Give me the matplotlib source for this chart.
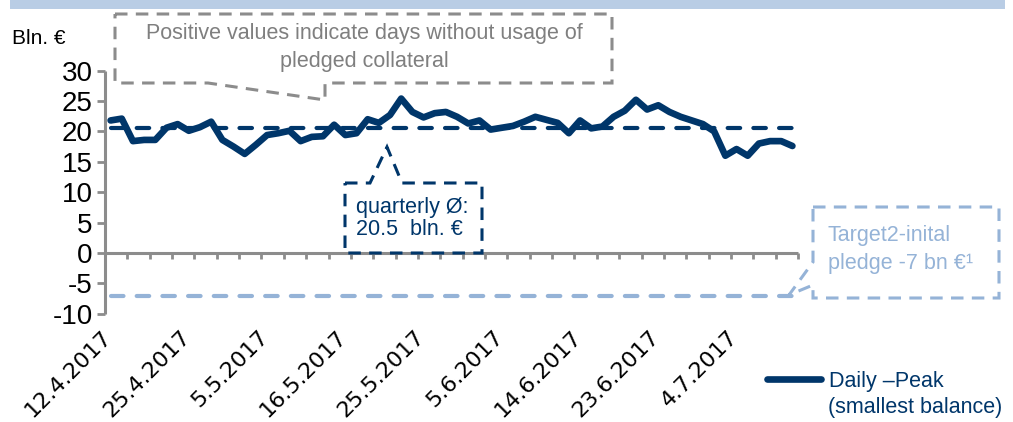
import matplotlib
matplotlib.use("Agg")
import matplotlib.pyplot as plt
from matplotlib.patches import Polygon, Rectangle
from matplotlib.transforms import ScaledTranslation
import numpy as np

plt.rcParams['lines.scale_dashes'] = False

# ---------------- data ----------------
dates = [
    "12.4.2017", "13.4.2017", "18.4.2017", "19.4.2017", "20.4.2017", "21.4.2017",
    "24.4.2017", "25.4.2017", "26.4.2017", "27.4.2017", "28.4.2017",
    "2.5.2017", "3.5.2017", "4.5.2017", "5.5.2017", "8.5.2017", "9.5.2017",
    "10.5.2017", "11.5.2017", "12.5.2017", "15.5.2017", "16.5.2017", "17.5.2017",
    "18.5.2017", "19.5.2017", "22.5.2017", "23.5.2017", "24.5.2017", "25.5.2017",
    "26.5.2017", "29.5.2017", "30.5.2017", "31.5.2017",
    "1.6.2017", "2.6.2017", "5.6.2017", "6.6.2017", "7.6.2017", "8.6.2017",
    "9.6.2017", "12.6.2017", "13.6.2017", "14.6.2017", "15.6.2017", "16.6.2017",
    "19.6.2017", "20.6.2017", "21.6.2017", "22.6.2017", "23.6.2017", "26.6.2017",
    "27.6.2017", "28.6.2017", "29.6.2017", "30.6.2017",
    "3.7.2017", "4.7.2017", "5.7.2017", "6.7.2017", "7.7.2017", "10.7.2017", "11.7.2017",
]
daily_peak = [
    21.8, 22.1, 18.4, 18.6, 18.6, 20.6, 21.2, 20.1, 20.7, 21.6,
    18.6, 17.5, 16.3, 17.8, 19.4, 19.7, 20.1, 18.4, 19.1, 19.2,
    21.1, 19.4, 19.7, 22.0, 21.4, 22.7, 25.4, 23.2, 22.3, 23.0,
    23.2, 22.4, 21.3, 21.8, 20.3, 20.6, 20.9, 21.6, 22.4, 21.9,
    21.4, 19.7, 21.8, 20.5, 20.8, 22.4, 23.4, 25.2, 23.6, 24.3,
    23.2, 22.4, 21.8, 21.2, 20.0, 16.0, 17.1, 16.0, 18.0, 18.4,
    18.4, 17.6,
]
quarterly_avg = [20.5] * len(dates)
initial_pledge = [-7.0] * len(dates)
tick_label_dates = ["12.4.2017", "25.4.2017", "5.5.2017", "16.5.2017", "25.5.2017",
                    "5.6.2017", "14.6.2017", "23.6.2017", "4.7.2017"]
y_ticks = [-10, -5, 0, 5, 10, 15, 20, 25, 30]

# ---------------- style ----------------
NAVY = "#00366A"
GRAY = "#8C8C8C"
GRAYTXT = "#7F7F7F"
LBLUE = "#95B3D7"
BAND = "#B9CDE5"
ARIAL = ["Liberation Sans", "DejaVu Sans"]

W, H = 1013, 422
fig = plt.figure(figsize=(W / 100, H / 100), dpi=100)

def fx(x):
    return x / W

def fy(y):
    return 1 - y / H

y_top, y_bot = 70.6, 313.8
ax = fig.add_axes([fx(105), fy(y_bot), fx(798) - fx(105), (y_bot - y_top) / H])

x = np.arange(len(dates))
ax.plot(x, initial_pledge, color=LBLUE, lw=3.0, dashes=(9, 9.5),
        dash_capstyle='round', zorder=3)
ax.plot(x, quarterly_avg, color=NAVY, lw=3.0, dashes=(9, 9.5),
        dash_capstyle='round', zorder=4)
line, = ax.plot(x, daily_peak, color=NAVY, lw=4.8, solid_capstyle='round',
                solid_joinstyle='round', zorder=5, label="Daily –Peak")

ax.set_xlim(-0.5, len(dates) - 0.5)
ax.set_ylim(-10, 30)

for s in ['top', 'right']:
    ax.spines[s].set_visible(False)
ax.spines['bottom'].set_position(('data', 0))
for s in ['left', 'bottom']:
    ax.spines[s].set_color(GRAY)
    ax.spines[s].set_linewidth(2.2)
    ax.spines[s].set_capstyle('butt')

ax.set_yticks(y_ticks)
ax.set_yticklabels([str(v) for v in y_ticks], fontfamily=ARIAL, fontsize=20)
ax.tick_params(axis='y', direction='out', length=6, width=2.0, color=GRAY, pad=3)

tick_pos = [dates.index(d) for d in tick_label_dates]
ax.set_xticks(tick_pos)
ax.set_xticklabels(tick_label_dates, fontfamily="DejaVu Sans", fontsize=16)
ax.set_xticks(np.arange(-0.5, len(dates), 2), minor=True)
ax.tick_params(axis='x', which='major', length=0, pad=53)
ax.tick_params(axis='x', which='minor', direction='out', length=4.5, width=2.0, color=GRAY)
shift = ScaledTranslation(-9 / 100, 0, fig.dpi_scale_trans)
for tk in ax.xaxis.get_major_ticks():
    lab = tk.label1
    lab.set_rotation(45)
    lab.set_ha('right')
    lab.set_va('top')
    lab.set_rotation_mode('anchor')
    lab.set_transform(lab.get_transform() + shift)

# legend (first line as legend entry, second line as continuation text)
leg = ax.legend(handles=[line], loc='upper left', bbox_to_anchor=(fx(767), fy(371)),
                bbox_transform=fig.transFigure, frameon=False, borderpad=0,
                borderaxespad=0, handlelength=2.5, handletextpad=0.4,
                prop={'family': ARIAL, 'size': 15.5})
for t in leg.get_texts():
    t.set_color(NAVY)
fig.text(fx(828), fy(408), "(smallest balance)", ha='left', va='center', color=NAVY,
         fontsize=15.5, fontfamily=ARIAL)

# top band
fig.add_artist(Rectangle((fx(10), fy(9)), fx(1005) - fx(10), 9 / H,
                         transform=fig.transFigure, color=BAND, lw=0))

def callout(pts, color):
    p = Polygon([(fx(a), fy(b)) for a, b in pts], closed=True, transform=fig.transFigure,
                fill=False, edgecolor=color, lw=2.2, linestyle=(0, (9, 6)), zorder=6)
    fig.add_artist(p)

# top gray callout
callout([(115, 14), (612, 14), (612, 83), (325, 83), (325, 100), (208, 83), (115, 83)], GRAY)
fig.text(fx(364), fy(34), "Positive values indicate days without usage of", ha='center',
         va='center', color=GRAYTXT, fontsize=15.5, fontfamily=ARIAL)
fig.text(fx(364), fy(61), "pledged collateral", ha='center', va='center',
         color=GRAYTXT, fontsize=15.5, fontfamily=ARIAL)

# quarterly average callout
callout([(345, 183), (370, 183), (387, 147), (402, 183), (482, 183), (482, 253), (345, 253)], NAVY)
fig.text(fx(356), fy(207), "quarterly Ø:", ha='left', va='center', color=NAVY,
         fontsize=15.5, fontfamily=ARIAL)
fig.text(fx(356), fy(230), "20.5  bln. €", ha='left', va='center', color=NAVY,
         fontsize=15.5, fontfamily=ARIAL)

# Target2 callout
callout([(813, 207), (999, 207), (999, 298), (813, 298), (813, 285), (789, 295), (813, 262)], LBLUE)
fig.text(fx(828), fy(236), "Target2-inital", ha='left', va='center', color=LBLUE,
         fontsize=15.5, fontfamily=ARIAL)
fig.text(fx(828), fy(264), "pledge -7 bn €¹", ha='left', va='center', color=LBLUE,
         fontsize=15.5, fontfamily=ARIAL)

# unit label
fig.text(fx(12), fy(38), "Bln. €", ha='left', va='center', color='black',
         fontsize=15, fontfamily=ARIAL)

fig.savefig("out.png", dpi=100)
